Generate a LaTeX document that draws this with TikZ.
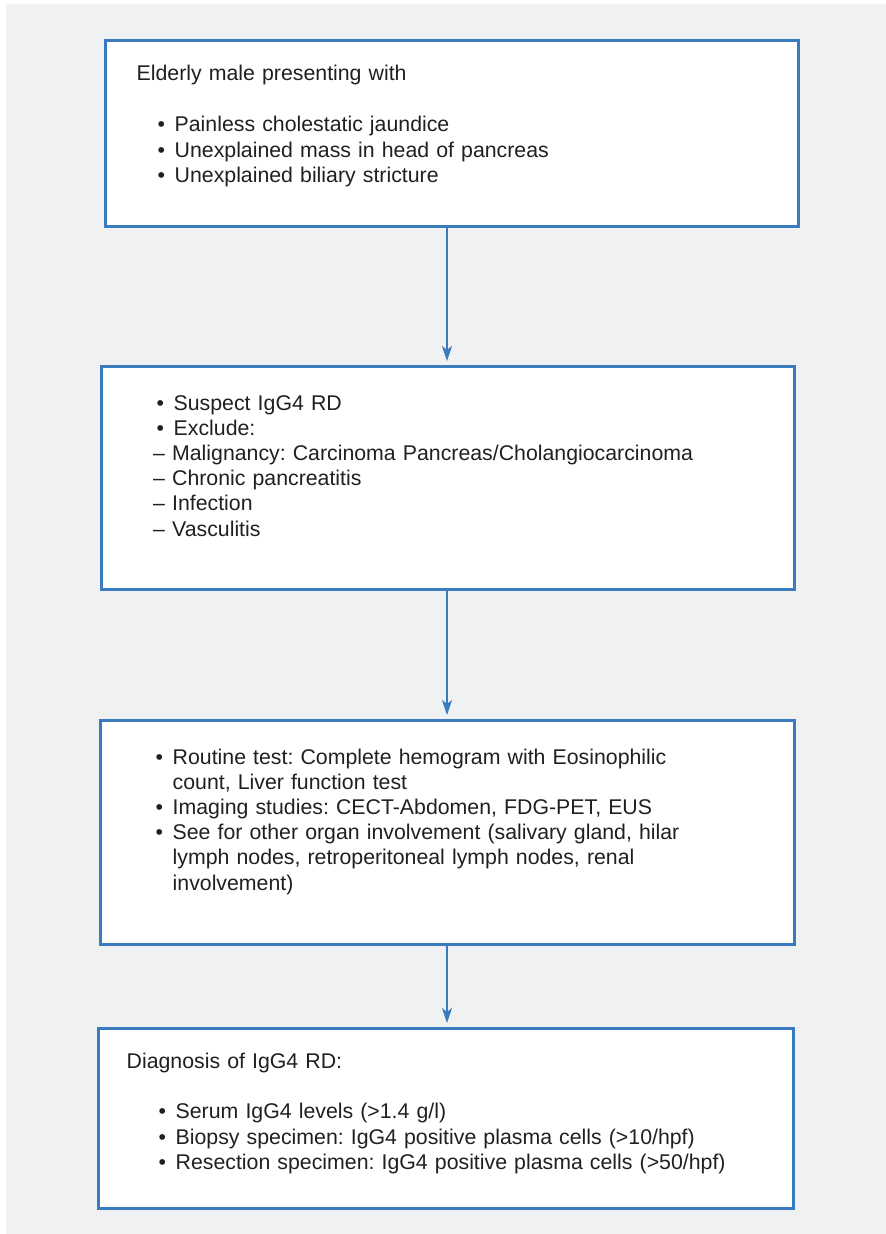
\documentclass[tikz,border=0pt]{standalone}
\usepackage{fontspec}
\setmainfont{Liberation Sans}
\usetikzlibrary{arrows.meta}
\definecolor{flowblue}{RGB}{58,122,190}
\definecolor{panelgray}{RGB}{240,241,243}
\definecolor{inkgray}{RGB}{35,31,32}
\frenchspacing
\newcommand{\bul}{\makebox[17pt][l]{\textbullet}}
\newcommand{\cont}{\hspace*{17pt}}
\begin{document}
\begin{tikzpicture}[x=1pt,y=-1pt,
  stepbox/.style={draw=flowblue,line width=2.6pt,fill=white,rectangle,inner sep=0pt,anchor=north west},
  boxtext/.style={text=inkgray,font=\fontsize{21.3}{25.2}\selectfont,align=left,text width=660pt,inner sep=0pt,anchor=base west},
  flow/.style={draw=flowblue,line width=1.3pt,shorten >=4pt,-{Stealth[length=15pt,width=10pt,inset=4pt]}}]
\useasboundingbox (0,0) rectangle (886,1234);
\fill[panelgray] (6,4) rectangle (886,1234);
% boxes
\node[stepbox,minimum width=693pt,minimum height=186pt] (b1) at (104,39) {};
\node[stepbox,minimum width=693pt,minimum height=223pt] (b2) at (100,365) {};
\node[stepbox,minimum width=694pt,minimum height=224pt] (b3) at (99,719) {};
\node[stepbox,minimum width=695pt,minimum height=180pt] (b4) at (97,1027) {};
% texts
\node[boxtext] (t1) at (136.5,80) {Elderly male presenting with\\[26.6pt]
  \hspace*{21pt}\bul Painless cholestatic jaundice\\
  \hspace*{21pt}\bul Unexplained mass in head of pancreas\\
  \hspace*{21pt}\bul Unexplained biliary stricture};
\node[boxtext] (t2) at (153,410) {\hspace*{3.5pt}\bul Suspect IgG4 RD\\
  \hspace*{3.5pt}\bul Exclude:\\
  -- Malignancy: Carcinoma Pancreas/Cholangiocarcinoma\\
  -- Chronic pancreatitis\\
  -- Infection\\
  -- Vasculitis};
\node[boxtext] (t3) at (155.5,764) {\bul Routine test: Complete hemogram with Eosinophilic\\
  \cont count, Liver function test\\
  \bul Imaging studies: CECT-Abdomen, FDG-PET, EUS\\
  \bul See for other organ involvement (salivary gland, hilar\\
  \cont lymph nodes, retroperitoneal lymph nodes, renal\\
  \cont involvement)};
\node[boxtext] (t4) at (126.5,1068) {Diagnosis of IgG4 RD:\\[25.6pt]
  \hspace*{32pt}\bul Serum IgG4 levels (>1.4 g/l)\\
  \hspace*{32pt}\bul Biopsy specimen: IgG4 positive plasma cells (>10/hpf)\\
  \hspace*{32pt}\bul Resection specimen: IgG4 positive plasma cells (>50/hpf)};
% connectors
\coordinate (ax) at (447,0);
\draw[flow] (b1.south -| ax) -- (b2.north -| ax);
\draw[flow] (b2.south -| ax) -- (b3.north -| ax);
\draw[flow] (b3.south -| ax) -- (b4.north -| ax);
\end{tikzpicture}
\end{document}
